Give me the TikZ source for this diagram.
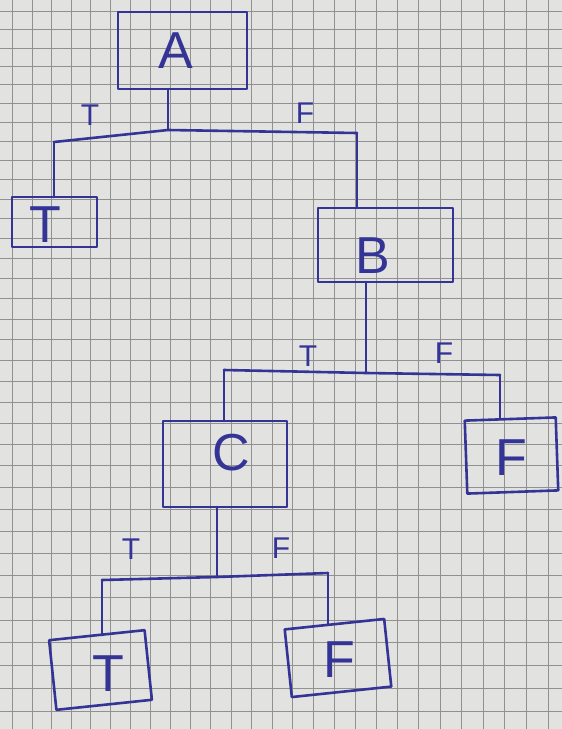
\documentclass[tikz,border=0pt]{standalone}
\usepackage{fontspec}
\setmainfont{Liberation Sans}
\definecolor{pen}{RGB}{52,52,150}
\definecolor{paper}{RGB}{226,226,224}
\definecolor{gridc}{RGB}{145,145,145}
\begin{document}
\begin{tikzpicture}[x=0.5pt,y=-0.5pt,
  pen/.style={draw=pen, line width=1.3pt, line cap=round, line join=round},
  pbox/.style 2 args={pen, rectangle, inner sep=0pt, outer sep=0pt,
    minimum width=#1*0.5pt, minimum height=#2*0.5pt},
  big/.style={text=pen, font=\fontsize{26}{26}\selectfont, inner sep=0pt},
  lab/.style={text=pen, font=\fontsize{15}{15}\selectfont, inner sep=0pt}]
\useasboundingbox (0,0) rectangle (562,729);
\clip (0,0) rectangle (562,729);
\fill[paper] (0,0) rectangle (562,729);
% grid paper (slight perspective)
\foreach \n in {0,...,29} {
  \pgfmathsetmacro\xx{12.7+19.3*\n+0.05*\n*\n}
  \draw[gridc, line width=0.5pt] (\xx,0) -- (\xx,729);
}
\foreach \n in {0,...,36} {
  \pgfmathsetmacro\yy{11.7+18*\n+0.076*\n*\n}
  \draw[gridc, line width=0.5pt] (0,\yy) -- (562,\yy);
}
% boxes
\node[pbox={129}{77}] (A) at (182.5,50.5) {};
\node[big] (Al) at (176,51) {A};
\node[pbox={85}{50}] (T1) at (54.5,222) {};
\node[big] (T1l) at (45,225) {T};
\node[pbox={135}{74}] (B) at (385.5,245) {};
\node[big] (Bl) at (373,256) {B};
\node[pbox={124}{86}] (C) at (225,464) {};
\node[big] (Cl) at (231,453) {C};
\node[pbox={91}{73}, rotate=2] (F1) at (511.5,455.5) {};
\node[big] (F1l) at (511,458) {F};
\node[pbox={96}{70}, rotate=6] (T2) at (100.5,670) {};
\node[big] (T2l) at (108,674) {T};
\node[pbox={100}{68}, rotate=6] (F2) at (338,658) {};
\node[big] (F2l) at (339,660) {F};
% level 1
\coordinate (s1) at (168,130);
\coordinate (b1l) at (54,142);
\coordinate (b1r) at (357,133);
\draw[pen] (A.south -| s1) -- (s1);
\draw[pen] (b1l) -- (s1) -- (b1r);
\draw[pen] (b1l) -- (b1l |- T1.north);
\draw[pen] (b1r) -- (b1r |- B.north);
\node[lab] (l1t) at (90,115) {T};
\node[lab] (l1f) at (305,113) {F};
% level 2
\coordinate (s2) at (366,373);
\coordinate (b2l) at (224,370);
\coordinate (b2r) at (500,375);
\draw[pen] (B.south -| s2) -- (s2);
\draw[pen] (b2l) -- (s2) -- (b2r);
\draw[pen] (b2l) -- (b2l |- C.north);
\draw[pen] (b2r) -- (b2r |- F1.north);
\node[lab] (l2t) at (308,356) {T};
\node[lab] (l2f) at (444,353) {F};
% level 3
\coordinate (s3) at (217,577);
\coordinate (b3l) at (102,580);
\coordinate (b3r) at (328,573);
\draw[pen] (C.south -| s3) -- (s3);
\draw[pen] (b3l) -- (s3) -- (b3r);
\draw[pen] (b3l) -- (b3l |- T2.north);
\draw[pen] (b3r) -- (b3r |- F2.north);
\node[lab] (l3t) at (131,549) {T};
\node[lab] (l3f) at (281,548) {F};
\end{tikzpicture}
\end{document}
